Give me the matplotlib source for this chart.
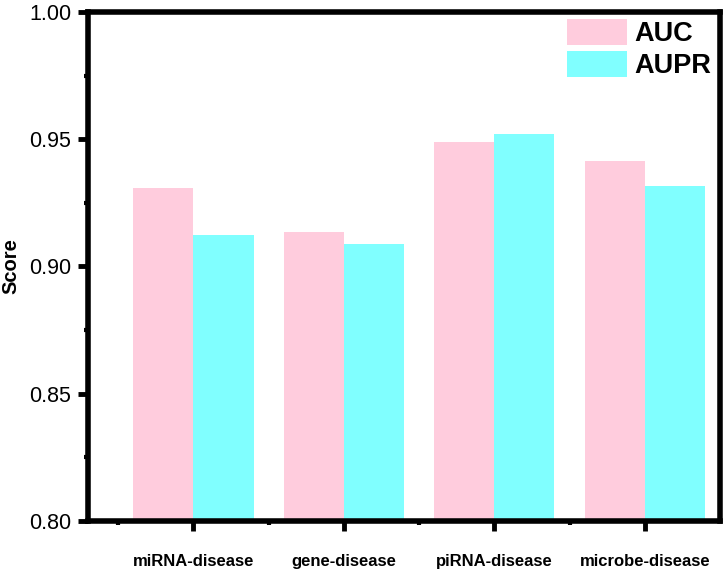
import matplotlib
matplotlib.use("Agg")
import matplotlib.pyplot as plt
import numpy as np
from matplotlib.ticker import MultipleLocator, FixedLocator, FormatStrFormatter

plt.rcParams["font.family"] = ["Liberation Sans", "DejaVu Sans"]

categories = ["miRNA-disease", "gene-disease", "piRNA-disease", "microbe-disease"]
auc = [0.9308, 0.9136, 0.9489, 0.9413]
aupr = [0.9125, 0.9088, 0.9522, 0.9318]

AUC_COLOR = "#FFCCDD"
AUPR_COLOR = "#80FFFF"

fig = plt.figure(figsize=(7.26, 5.72), dpi=100)
ax = fig.add_axes([0.1212, 0.0892, 0.8705, 0.8898])

x = np.arange(1, len(categories) + 1)
width = 0.4
ax.bar(x - width / 2, auc, width, color=AUC_COLOR, label="AUC", linewidth=0)
ax.bar(x + width / 2, aupr, width, color=AUPR_COLOR, label="AUPR", linewidth=0)

ax.set_xlim(0.3, 4.5)
ax.set_ylim(0.80, 1.00)
ax.set_xticks(x)
ax.set_xticklabels(categories, fontsize=12, fontweight="bold")
ax.xaxis.set_minor_locator(FixedLocator(x - 0.5))
ax.yaxis.set_major_locator(MultipleLocator(0.05))
ax.yaxis.set_minor_locator(MultipleLocator(0.025))
ax.yaxis.set_major_formatter(FormatStrFormatter("%.2f"))

for side in ["left", "right", "top", "bottom"]:
    ax.spines[side].set_linewidth(4)
ax.tick_params(axis="both", which="major", direction="out", length=7, width=3.5)
ax.tick_params(axis="both", which="minor", direction="out", length=3, width=3)
ax.tick_params(axis="y", labelsize=15.5, pad=5)
ax.tick_params(axis="x", pad=17)

ax.set_ylabel("Score", fontsize=14.5, fontweight="bold", labelpad=6)

ax.legend(
    loc="upper left",
    bbox_to_anchor=(0.781, 0.967),
    bbox_transform=fig.transFigure,
    frameon=False,
    prop={"size": 19.5, "weight": "bold"},
    handlelength=2.2,
    handleheight=1.1,
    handletextpad=0.3,
    labelspacing=0.15,
    borderpad=0,
    borderaxespad=0,
)

fig.savefig("out.png", dpi=100)
